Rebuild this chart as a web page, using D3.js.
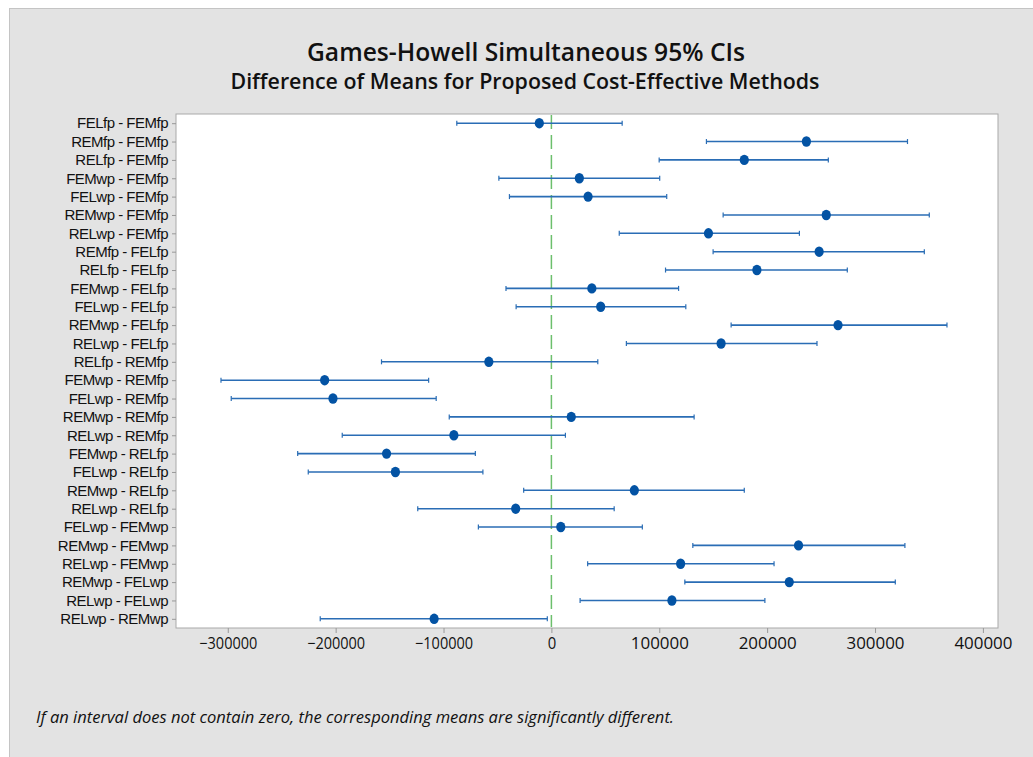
<!DOCTYPE html>
<html><head><meta charset="utf-8">
<script src="https://cdn.jsdelivr.net/npm/d3@7"></script>
<style>body{margin:0;background:#fff}svg{display:block}</style>
</head><body>
<script>
const categories = ["FELfp - FEMfp","REMfp - FEMfp","RELfp - FEMfp","FEMwp - FEMfp","FELwp - FEMfp","REMwp - FEMfp","RELwp - FEMfp","REMfp - FELfp","RELfp - FELfp","FEMwp - FELfp","FELwp - FELfp","REMwp - FELfp","RELwp - FELfp","RELfp - REMfp","FEMwp - REMfp","FELwp - REMfp","REMwp - REMfp","RELwp - REMfp","FEMwp - RELfp","FELwp - RELfp","REMwp - RELfp","RELwp - RELfp","FELwp - FEMwp","REMwp - FEMwp","RELwp - FEMwp","REMwp - FELwp","RELwp - FELwp","RELwp - REMwp"];
const centers = [-11200,236400,178800,25900,34000,254800,145600,248200,190500,37500,45700,265700,157300,-58000,-210200,-202500,18400,-90400,-152800,-144600,76900,-33100,8700,229100,119800,220500,111700,-108700];
const lowers = [-87700,143700,99900,-48700,-38900,159200,62900,149900,105800,-42100,-32700,166600,69500,-157500,-306300,-296800,-94700,-193900,-235200,-225400,-25700,-123900,-67700,131100,33600,123700,26600,-214300];
const uppers = [65600,330100,256700,100400,106900,350300,229900,345700,274300,117900,124600,366700,246200,43000,-113800,-106800,132300,13000,-70500,-63500,178800,58200,84300,327700,206400,318800,197900,-3800];
const xTicks = [-300000,-200000,-100000,0,100000,200000,300000,400000];
const title = "Games-Howell Simultaneous 95% CIs";
const subtitle = "Difference of Means for Proposed Cost-Effective Methods";
const footnote = "If an interval does not contain zero, the corresponding means are significantly different.";

const W = 1033, H = 757;
const svg = d3.select("body").append("svg").attr("width", W).attr("height", H);
const font = "'Open Sans', 'Noto Sans', sans-serif";

svg.append("rect").attr("x", 9.5).attr("y", 8.5).attr("width", W).attr("height", H)
  .attr("fill", "#e3e3e3").attr("stroke", "#c4c4c4");

svg.append("text").attr("x", 526).attr("y", 61).attr("text-anchor", "middle")
  .attr("font-family", font).attr("font-size", 25).attr("font-weight", 600).attr("fill", "#111")
  .attr("textLength", 438).attr("lengthAdjust", "spacingAndGlyphs").text(title);
svg.append("text").attr("x", 525).attr("y", 89).attr("text-anchor", "middle")
  .attr("font-family", font).attr("font-size", 21).attr("font-weight", 600).attr("fill", "#111")
  .attr("textLength", 589).attr("lengthAdjust", "spacingAndGlyphs").text(subtitle);

const L = 176, R = 998, T = 114, B = 628;
const x = d3.scaleLinear().domain([-348000, 414000]).range([L, R]);
const y = d3.scalePoint().domain(categories).range([T, B]).padding(0.5);

svg.append("rect").attr("x", L).attr("y", T).attr("width", R - L).attr("height", B - T)
  .attr("fill", "#fff").attr("stroke", "#a9a9a9");

const xAxis = svg.append("g").attr("transform", `translate(0,${B})`)
  .call(d3.axisBottom(x).tickValues(xTicks).tickFormat(d3.format("d")).tickSize(5).tickPadding(5));
xAxis.select(".domain").remove();
xAxis.selectAll("line").attr("stroke", "#999");
xAxis.selectAll("text").attr("font-family", font).attr("font-size", 16).attr("fill", "#111")
  .attr("textLength", d => d === 0 ? 8.5 : 58).attr("lengthAdjust", "spacingAndGlyphs");

const yAxis = svg.append("g").attr("transform", `translate(${L},0)`)
  .call(d3.axisLeft(y).tickSize(4).tickPadding(4));
yAxis.select(".domain").remove();
yAxis.selectAll("line").attr("stroke", "#999");
yAxis.selectAll("text").attr("font-family", "'Liberation Sans', Arial, sans-serif").attr("font-size", 15).attr("fill", "#111")
  .attr("letter-spacing", "-0.5");

// zero reference line
svg.append("line").attr("x1", x(0)).attr("x2", x(0)).attr("y1", T + 1).attr("y2", B - 1)
  .attr("stroke", "#6cbf6c").attr("stroke-width", 1.5).attr("stroke-dasharray", "14,6");

const data = categories.map((c, i) => ({c, m: centers[i], lo: lowers[i], hi: uppers[i]}));
const g = svg.append("g");
const col = "#2a6db5";
g.selectAll(".ci").data(data).join("line").attr("class", "ci")
  .attr("x1", d => x(d.lo)).attr("x2", d => x(d.hi))
  .attr("y1", d => y(d.c)).attr("y2", d => y(d.c))
  .attr("stroke", col).attr("stroke-width", 1.6);
g.selectAll(".capl").data(data).join("line").attr("class", "capl")
  .attr("x1", d => x(d.lo)).attr("x2", d => x(d.lo))
  .attr("y1", d => y(d.c) - 2.5).attr("y2", d => y(d.c) + 2.5)
  .attr("stroke", col).attr("stroke-width", 1.2);
g.selectAll(".capr").data(data).join("line").attr("class", "capr")
  .attr("x1", d => x(d.hi)).attr("x2", d => x(d.hi))
  .attr("y1", d => y(d.c) - 2.5).attr("y2", d => y(d.c) + 2.5)
  .attr("stroke", col).attr("stroke-width", 1.2);
g.selectAll(".dot").data(data).join("ellipse").attr("class", "dot")
  .attr("cx", d => x(d.m)).attr("cy", d => y(d.c)).attr("rx", 4.6).attr("ry", 5.2)
  .attr("fill", "#0353a4");

svg.append("text").attr("x", 36).attr("y", 723)
  .attr("font-family", font).attr("font-size", 16).attr("font-style", "italic").attr("fill", "#111")
  .attr("textLength", 638).attr("lengthAdjust", "spacingAndGlyphs").text(footnote);
</script>
</body></html>
